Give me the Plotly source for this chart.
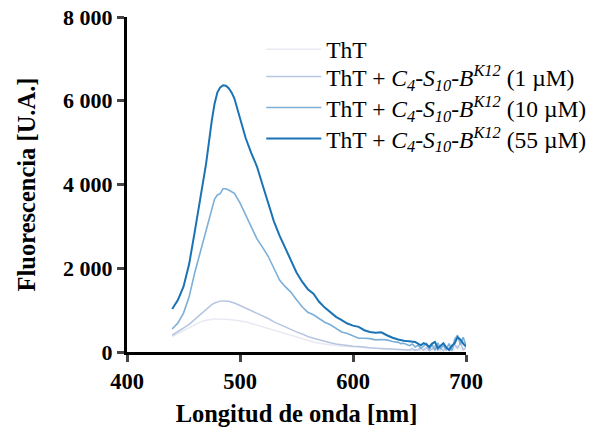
import plotly.graph_objects as go

wavelength = [440, 445, 450, 455, 460, 465, 470, 475, 477.5, 480, 482.5, 485, 487.5, 490, 492.5, 495,
              500, 505, 510, 515, 520,
              525, 530, 535, 540, 545, 550, 555, 560, 565, 570, 575, 580, 585, 590, 595, 600, 605,
              610, 615, 620, 625, 630, 635, 640, 642.5, 645, 647.5, 650, 652.5, 655, 657.5, 660,
              662.5, 665, 667.5, 670, 672.5, 675, 677.5, 680, 682.5, 685, 687.5, 690, 692.5, 695,
              697.5, 700]

tht = [370, 440, 510, 600, 660, 720, 760, 785, 790, 790, 790, 790, 785, 775, 770, 760,
       740, 720, 680, 640, 600,
       560, 510, 470, 430, 390, 350, 310, 280, 240, 210, 190, 170, 150, 140, 130, 120, 110,
       100, 90, 80, 75, 70, 65, 60, 55, 50, 60, 45, 40, 55, 35, 40,
       70, 30, 50, 90, 30, 60, 20, 70, 40, 110, 30, 60, 150, 90,
       40, 60]

tht_1uM = [400, 480, 560, 660, 780, 900, 1030, 1130, 1170, 1200, 1215, 1220, 1220, 1210, 1190, 1170,
           1110, 1050, 990, 920, 860,
           800, 720, 660, 590, 530, 480, 430, 370, 330, 290, 260, 220, 190, 170, 150, 140, 130,
           110, 100, 90, 85, 80, 70, 60, 70, 55, 65, 50, 80, 40, 60, 90,
           40, 110, 30, 70, 150, 40, 90, 30, 120, 60, 40, 180, 90, 220,
           60, 110]

tht_10uM = [549, 690, 930, 1320, 1900, 2400, 2950, 3420, 3650, 3750, 3780, 3900, 3900, 3870, 3830, 3790,
            3560, 3270, 2950, 2700, 2500,
            2280, 2000, 1720, 1560, 1430, 1250, 1080, 950, 890, 800, 710, 650, 560, 480, 440, 380, 330,
            330, 320, 290, 300, 290, 250, 230, 200, 210, 180, 150, 190, 120, 160, 90,
            140, 200, 60, 180, 40, 220, 80, 150, 60, 200, 40, 300, 400, 180,
            350, 150]

tht_55uM = [1026, 1240, 1560, 2100, 2880, 3680, 4500, 5520, 5930, 6200, 6320, 6370, 6360, 6300, 6200, 6060,
            5560, 5110, 4750, 4430, 3990,
            3580, 3120, 2780, 2500, 2200, 1900, 1680, 1500, 1390, 1200, 1060, 950, 840, 760, 680, 630, 600,
            520, 480, 460, 470, 400, 340, 300, 280, 270, 260, 250, 240, 240, 200, 160,
            210, 180, 120, 200, 240, 90, 150, 210, 110, 50, 150, 210, 350, 300,
            200, 130]

names = [
    "ThT",
    "ThT + <i>C</i><sub><i>4</i></sub>-<i>S</i><sub><i>10</i></sub>-<i>B</i><sup><i>K12</i></sup> (1 µM)",
    "ThT + <i>C</i><sub><i>4</i></sub>-<i>S</i><sub><i>10</i></sub>-<i>B</i><sup><i>K12</i></sup> (10 µM)",
    "ThT + <i>C</i><sub><i>4</i></sub>-<i>S</i><sub><i>10</i></sub>-<i>B</i><sup><i>K12</i></sup> (55 µM)",
]
series = [tht, tht_1uM, tht_10uM, tht_55uM]
colors = ["#e9e9f4", "#b6c5e2", "#7cafd8", "#1a73b4"]
widths = [1.5, 1.5, 1.6, 2]
legend_ids = ["legend", "legend2", "legend3", "legend4"]
legend_rows_y = [0.903, 0.822, 0.729, 0.637]

y_ticks = [0, 2000, 4000, 6000, 8000]
y_labels = ["0", "2 000", "4 000", "6 000", "8 000"]
x_ticks = [400, 500, 600, 700]

fig = go.Figure()
for name, ys, c, w, lg in zip(names, series, colors, widths, legend_ids):
    fig.add_trace(go.Scatter(x=wavelength, y=ys, mode="lines", name=name,
                             line=dict(color=c, width=w), legend=lg))

font_family = "Liberation Serif, Times New Roman, serif"
legend_style = dict(x=0.396, xanchor="left", yanchor="middle",
                    font=dict(size=23.5, family=font_family, color="black"),
                    bgcolor="rgba(0,0,0,0)", itemwidth=55)
layout_legends = {}
for lg, yy in zip(legend_ids, legend_rows_y):
    layout_legends[lg] = dict(legend_style, y=yy)

fig.update_layout(
    width=602, height=430,
    margin=dict(l=127, r=136, t=17, b=78, autoexpand=False),
    plot_bgcolor="white", paper_bgcolor="white",
    font=dict(family=font_family, color="black"),
    showlegend=True,
    **layout_legends,
    xaxis=dict(range=[400, 700], tickvals=x_ticks, ticktext=["<b>%d</b>" % v for v in x_ticks],
               ticks="outside", ticklen=7, tickwidth=3, automargin=False,
               showline=True, linewidth=3, linecolor="black", showgrid=False, zeroline=False,
               tickfont=dict(size=22.5, family=font_family, color="black"),
               title=dict(text="<b>Longitud de onda [nm]</b>",
                          font=dict(size=24.5, family=font_family, color="black"), standoff=12)),
    yaxis=dict(range=[0, 8000], tickvals=y_ticks, ticktext=["<b>%s</b>" % t for t in y_labels],
               ticks="outside", ticklen=7, tickwidth=3, automargin=False,
               showline=True, linewidth=3, linecolor="black", showgrid=False, zeroline=False,
               tickfont=dict(size=22, family=font_family, color="black"),
               title=dict(text="<b>Fluorescencia [U.A.]</b>",
                          font=dict(size=24.5, family=font_family, color="black"), standoff=21)),
)
fig.write_html("out.html")
